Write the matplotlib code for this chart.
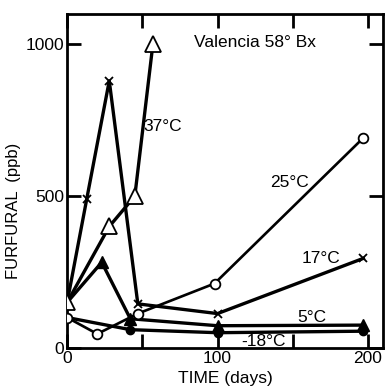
import matplotlib
matplotlib.use("Agg")
import matplotlib.pyplot as plt

plt.rcParams['font.family'] = ['Liberation Sans', 'DejaVu Sans']

# data (days, ppb)
t37 = [0, 28, 45, 57]
v37 = [150, 400, 500, 1000]
t_x = [0, 13, 28, 47, 100, 197]
v_x = [150, 490, 880, 145, 113, 295]
t25 = [0, 20, 47, 98, 197]
v25 = [100, 46, 113, 212, 692]
t5 = [0, 23, 42, 100, 197]
v5 = [150, 282, 96, 73, 75]
tm18 = [0, 42, 100, 197]
vm18 = [100, 60, 50, 55]

xticks = [0, 50, 100, 150, 200]
xticklabels = ['0', '', '100', '', '200']
yticks = [0, 500, 1000]
yticklabels = ['0', '500', '1000']

fig = plt.figure(figsize=(3.86, 3.90), dpi=100)
ax = fig.add_axes([0.174, 0.108, 0.818, 0.856])

lw = 2.4
ax.plot(tm18, vm18, color='black', lw=lw, marker='o', ms=6, mfc='black', mec='black', zorder=3)
ax.plot(t5, v5, color='black', lw=lw, marker='^', ms=8, mfc='black', mec='black', zorder=3)
ax.plot(t25, v25, color='black', lw=lw * 0.8, marker='o', ms=7, mfc='white', mec='black', mew=1.3, zorder=4)
ax.plot(t_x, v_x, color='black', lw=lw, marker='x', ms=6, mec='black', mew=1.3, zorder=4)
ax.plot(t37, v37, color='black', lw=lw, marker='^', ms=11, mfc='white', mec='black', mew=1.3, zorder=4)

ax.set_xlim(0, 210)
ax.set_ylim(0, 1100)
ax.set_xticks(xticks)
ax.set_xticklabels(xticklabels)
ax.set_yticks(yticks)
ax.set_yticklabels(yticklabels)
ax.tick_params(direction='in', length=10, width=2, labelsize=12.5, top=True, right=True, pad=2)
for s in ax.spines.values():
    s.set_linewidth(2)

ax.set_xlabel('TIME (days)', fontsize=12.5, labelpad=4)
ax.set_ylabel('FURFURAL  (ppb)', fontsize=12)
ax.yaxis.set_label_coords(-0.145, 0.41)

fs = 12.5
ax.text(0.595, 0.915, 'Valencia 58° Bx', transform=ax.transAxes, fontsize=fs, ha='center', va='center')
ax.text(51, 730, '37°C', fontsize=fs, ha='left', va='center')
ax.text(135, 545, '25°C', fontsize=fs, ha='left', va='center')
ax.text(156, 295, '17°C', fontsize=fs, ha='left', va='center')
ax.text(153, 100, '5°C', fontsize=fs, ha='left', va='center')
ax.text(116, 22, '-18°C', fontsize=fs, ha='left', va='center')

fig.savefig('out.png', dpi=100)
